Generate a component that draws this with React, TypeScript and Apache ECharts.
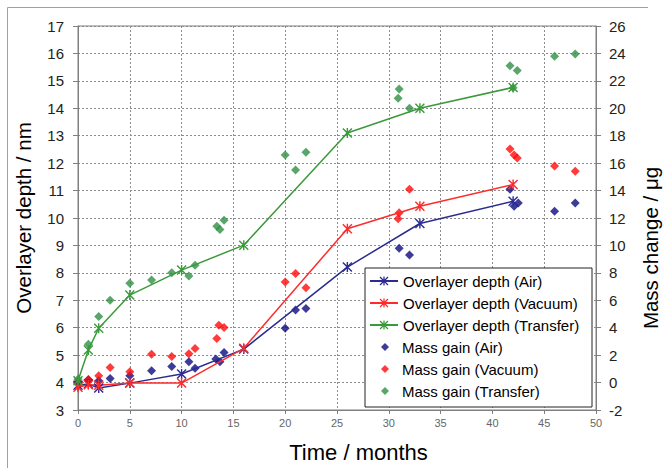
import React, { useEffect, useRef } from "react";
import * as echarts from "echarts";

// ---- Data ----
const lineTimes = [0, 1, 2, 5, 10, 16, 26, 33, 42];
const depthAir = [3.9, 3.95, 3.8, 3.98, 4.31, 5.22, 8.21, 9.8, 10.61];
const depthVacuum = [3.83, 3.92, 3.9, 3.98, 3.98, 5.25, 9.61, 10.43, 11.22];
const depthTransfer = [4.07, 5.19, 5.98, 7.19, 8.1, 9.01, 13.1, 14.0, 14.76];

const massTimesAir = [0, 1, 2, 3.1, 5, 7.1, 9.05, 10.7, 11.3, 13.3, 13.7, 14.1, 20, 21, 22, 31, 32, 41.7, 42.1, 42.5, 46, 48];
const massAir = [0.06, 0.2, 0.13, 0.3, 0.5, 0.86, 1.18, 1.51, 1.05, 1.71, 1.51, 2.2, 3.96, 5.3, 5.4, 9.8, 9.3, 14.1, 12.85, 13.1, 12.5, 13.1];

const massTimesVacuum = [0, 1, 2, 3.1, 5, 7.1, 9.05, 10.7, 11.3, 13.4, 13.6, 14.1, 20, 21, 22, 30.9, 31, 32, 41.7, 42.1, 42.4, 46, 48];
const massVacuum = [0.05, 0.22, 0.5, 1.1, 0.79, 2.07, 1.9, 2.1, 2.49, 3.21, 4.18, 4.01, 7.33, 7.96, 6.92, 11.94, 12.38, 14.1, 17.03, 16.6, 16.38, 15.8, 15.4];

const massTimesTransfer = [0, 1, 2, 3.1, 5, 7.1, 9.05, 10.7, 11.3, 13.4, 13.7, 14.1, 20, 21, 22, 30.9, 31, 32, 41.7, 42, 42.4, 46, 48];
const massTransfer = [0.25, 2.8, 4.81, 6.0, 7.24, 7.48, 8.0, 7.77, 8.55, 11.4, 11.16, 11.84, 16.6, 15.5, 16.8, 20.74, 21.4, 20.0, 23.1, 21.5, 22.75, 23.8, 23.96];

const lineNames = ["Overlayer depth (Air)", "Overlayer depth (Vacuum)", "Overlayer depth (Transfer)"];
const massNames = ["Mass gain (Air)", "Mass gain (Vacuum)", "Mass gain (Transfer)"];

// ---- Styles ----
const FONT = "'Liberation Sans', Arial, sans-serif";
const C_AIR_LINE = "#2b2b93";
const C_VAC_LINE = "#ff2a2a";
const C_TRA_LINE = "#3a9a3a";
const C_AIR_PT = "#0c0c80";
const C_VAC_PT = "#ff0a0a";
const C_TRA_PT = "#2f8f45";

const STAR =
  "path://M4.3,0 L5.7,0 L5.7,10 L4.3,10 Z M0,1 L1,0 L10,9 L9,10 Z M9,0 L10,1 L1,10 L0,9 Z";
// small diamond inside a 28x8 box (tiny corner specks keep the box size)
const LEGEND_DIAMOND =
  "path://M0,0 L0.01,0 L0,0.01 Z M28,8 L27.99,8 L28,7.99 Z M16,0 L20,4 L16,8 L12,4 Z";

const zip = (xs: number[], ys: number[]) => xs.map((x, i) => [x, ys[i]]);

function lineSeries(name: string, ys: number[], color: string) {
  return {
    name,
    type: "line",
    yAxisIndex: 0,
    data: zip(lineTimes, ys),
    symbol: STAR,
    symbolSize: 10,
    showSymbol: true,
    lineStyle: { color, width: 1.5 },
    itemStyle: { color },
    z: 3,
  };
}

function massSeries(name: string, xs: number[], ys: number[], color: string) {
  return {
    name,
    type: "scatter",
    yAxisIndex: 1,
    data: zip(xs, ys),
    symbol: "diamond",
    symbolSize: 9,
    itemStyle: { color },
    z: 2,
  };
}

export default function App() {
  const ref = useRef<HTMLDivElement>(null);
  useEffect(() => {
    const chart = echarts.init(ref.current!, null, { renderer: "svg" });
    const splitLine = { show: true, lineStyle: { color: "#8c8c8c", type: [2, 2], width: 1 } };
    const option: any = {
      animation: false,
      backgroundColor: "#ffffff",
      textStyle: { fontFamily: FONT },
      grid: {
        left: 78,
        right: 68,
        top: 26,
        bottom: 57,
        containLabel: false,
        show: true,
        borderColor: "#7f7f7f",
        borderWidth: 1,
      },
      xAxis: {
        type: "value",
        min: 0,
        max: 50,
        interval: 5,
        name: "Time / months",
        nameLocation: "middle",
        nameGap: 31,
        nameTextStyle: { fontSize: 22, color: "#000", fontFamily: FONT, padding: [0, 0, 0, 43] },
        axisLine: { show: true, onZero: false, lineStyle: { color: "#7f7f7f", width: 1 } },
        axisTick: { show: true, length: 4, lineStyle: { color: "#7f7f7f" } },
        axisLabel: { fontSize: 11, color: "#666", margin: 7, fontFamily: FONT },
        splitLine,
      },
      yAxis: [
        {
          type: "value",
          min: 3,
          max: 17,
          interval: 1,
          position: "left",
          name: "Overlayer depth / nm",
          nameLocation: "middle",
          nameGap: 44,
          nameTextStyle: { fontSize: 20.5, color: "#000", fontFamily: FONT },
          axisLine: { show: true, onZero: false, lineStyle: { color: "#7f7f7f", width: 1 } },
          axisTick: { show: true, length: 5, lineStyle: { color: "#7f7f7f" } },
          axisLabel: { fontSize: 15, color: "#222", margin: 14, fontFamily: FONT },
          splitLine,
        },
        {
          type: "value",
          min: -2,
          max: 26,
          interval: 2,
          position: "right",
          name: "Mass change / μg",
          nameLocation: "middle",
          nameGap: 44,
          nameTextStyle: { fontSize: 20.5, color: "#000", fontFamily: FONT, padding: [0, 60, 0, 0] },
          axisLine: { show: true, onZero: false, lineStyle: { color: "#7f7f7f", width: 1 } },
          axisTick: { show: true, length: 5, lineStyle: { color: "#7f7f7f" } },
          axisLabel: { fontSize: 15, color: "#222", margin: 13, fontFamily: FONT },
          splitLine: { show: false },
        },
      ],
      legend: [
        {
          data: lineNames,
          orient: "vertical",
          left: 369,
          top: 273.5,
          padding: 0,
          itemWidth: 28,
          itemHeight: 11,
          itemGap: 7,
          selectedMode: false,
          textStyle: { fontSize: 15, lineHeight: 15, color: "#000", fontFamily: FONT },
          z: 6,
        },
        {
          data: massNames.map((n) => ({ name: n, icon: LEGEND_DIAMOND })),
          orient: "vertical",
          left: 369,
          top: 339.5,
          padding: 0,
          itemWidth: 28,
          itemHeight: 8,
          itemGap: 7,
          selectedMode: false,
          symbolKeepAspect: true,
          textStyle: { fontSize: 15, lineHeight: 15, color: "#000", fontFamily: FONT },
          z: 6,
        },
      ],
      graphic: [
        {
          type: "rect",
          z: 5,
          shape: { x: 365, y: 268, width: 227, height: 139 },
          style: { fill: "#ffffff", stroke: "#222", lineWidth: 1 },
        },
        {
          type: "polyline",
          z: 5,
          shape: { points: [[7.5, 468], [7.5, 7.5], [648, 7.5]] },
          style: { fill: "none", stroke: "#a0a0a0", lineWidth: 1 },
        },
      ],
      series: [
        massSeries(massNames[0], massTimesAir, massAir, C_AIR_PT),
        massSeries(massNames[1], massTimesVacuum, massVacuum, C_VAC_PT),
        massSeries(massNames[2], massTimesTransfer, massTransfer, C_TRA_PT),
        lineSeries(lineNames[0], depthAir, C_AIR_LINE),
        lineSeries(lineNames[1], depthVacuum, C_VAC_LINE),
        lineSeries(lineNames[2], depthTransfer, C_TRA_LINE),
      ],
    };
    chart.setOption(option);
    return () => chart.dispose();
  }, []);
  return (
    <div
      ref={ref}
      style={{ position: "absolute", left: 0, top: 0, width: 669, height: 468 }}
    />
  );
}
